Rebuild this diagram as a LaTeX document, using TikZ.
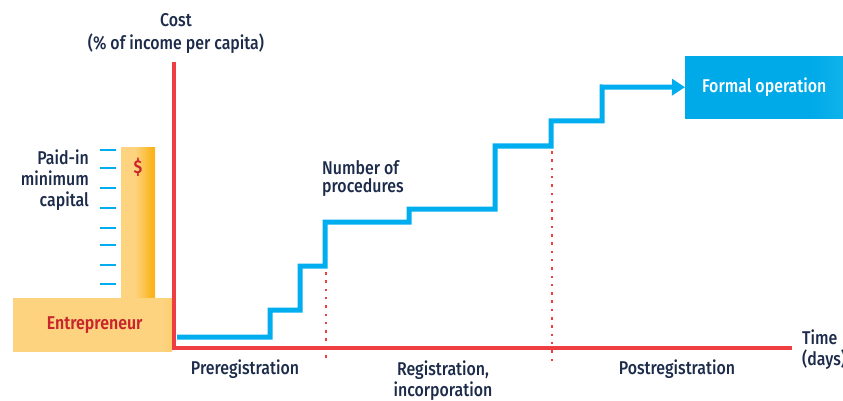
\documentclass[tikz,border=0pt]{standalone}
\usepackage{fontspec}
\setmainfont{Fira Sans}[FakeStretch=0.86,UprightFont=* Medium,BoldFont=* SemiBold]
\usetikzlibrary{arrows.meta,positioning}
\definecolor{axisred}{HTML}{EF3E42}
\definecolor{stepblue}{HTML}{00AEEF}
\definecolor{textnavy}{HTML}{1C2B4A}
\definecolor{entred}{HTML}{C9252C}
\definecolor{entlight}{HTML}{FDD380}
\definecolor{entdark}{HTML}{FBB41C}
\definecolor{formdark}{HTML}{00A9E8}
\definecolor{formlight}{HTML}{2EC8F3}
\pgfdeclarehorizontalshading{barshade}{100bp}{color(0bp)=(entlight); color(45bp)=(entlight); color(70bp)=(entdark); color(100bp)=(entdark)}
\pgfdeclarehorizontalshading{entshade}{100bp}{color(0bp)=(entlight); color(72bp)=(entlight); color(90bp)=(entdark); color(100bp)=(entdark)}
\pgfdeclarehorizontalshading{formshade}{100bp}{color(0bp)=(formdark); color(65bp)=(formdark); color(95bp)=(formlight); color(100bp)=(formlight)}

\begin{document}
\begin{tikzpicture}[x=1pt,y=-1pt,font=\fontsize{18.5}{21}\selectfont,text=textnavy,
    axis line/.style={draw=axisred,line width=4pt},
    phase line/.style={draw=axisred,line width=2pt,dash pattern=on 2.5pt off 5.8pt},
    stair/.style={draw=stepblue,line width=5pt,-{Triangle[length=13pt,width=16pt]}},
    tick line/.style={draw=stepblue,line width=2.5pt},
    label/.style={inner sep=0pt,align=center},
    ent box/.style={rectangle,inner sep=0pt,shading=#1},
    formal box/.style={rectangle,inner sep=0pt,shading=formshade,text=white,
      minimum width=158pt,minimum height=62pt}]

      \useasboundingbox (0,0) rectangle (843,401);

      \node[ent box=barshade,minimum width=34pt,minimum height=152pt,anchor=north west] (bar) at (121,147) {};
      \node[ent box=entshade,minimum width=159pt,minimum height=53pt,anchor=north west,
            text=entred,font=\fontsize{18.5}{21}\selectfont\bfseries] (entrepreneur) at (13,298) {\hspace*{4pt}Entrepreneur};
      \node[text=entred,font=\fontsize{18.5}{21}\selectfont\bfseries] (dollar) at (138,167) {\$};
      \node[label,align=right,anchor=east] (capital) at (89,180) {Paid-in\\minimum\\capital};
      \draw[tick line] (100,150) -- (116,150) (100,168) -- (116,168) (100,188) -- (116,188)
        (100,208) -- (116,208) (100,228) -- (116,228) (100,245) -- (116,245)
        (100,265) -- (116,265) (100,284) -- (116,284);

      \coordinate (top) at (174,62);
      \coordinate (origin) at (174,348);
      \coordinate (end) at (792,348);
      \draw[axis line] (top) -- (origin) -- (end);

      \node[label,font=\fontsize{18.5}{23}\selectfont] (cost) at (176,33) {Cost\\(\% of income per capita)};
      \node[label,align=left,anchor=west,font=\fontsize{18.5}{18}\selectfont] (procedures) at (322,179) {Number of\\procedures};
      \node[label,align=left,anchor=west] (time) at (802,350) {Time\\(days)};

      \coordinate (split1) at (326,272);
      \coordinate (split2) at (552,151);
      \draw[phase line] (split1) -- (split1 |- 0,363);
      \draw[phase line] (split2) -- (split2 |- 0,363);

      \node[label] (pre) at (245,369) {Preregistration};
      \node[label] (reg) at (443,381) {Registration,\\incorporation};
      \node[label] (post) at (677,369) {Postregistration};

      \node[formal box,anchor=north west] (formal) at (685,56) {Formal operation};
      \coordinate (start) at (177,337);
      \draw[stair] (start) -- (270,337) -- (270,310) -- (300,310) -- (300,266) -- (325,266)
        -- (325,222) -- (409,222) -- (409,209) -- (495,209) -- (495,146) -- (551,146)
        -- (551,121) -- (602,121) -- (602,87) -- (formal.west);
    \end{tikzpicture}
\end{document}
